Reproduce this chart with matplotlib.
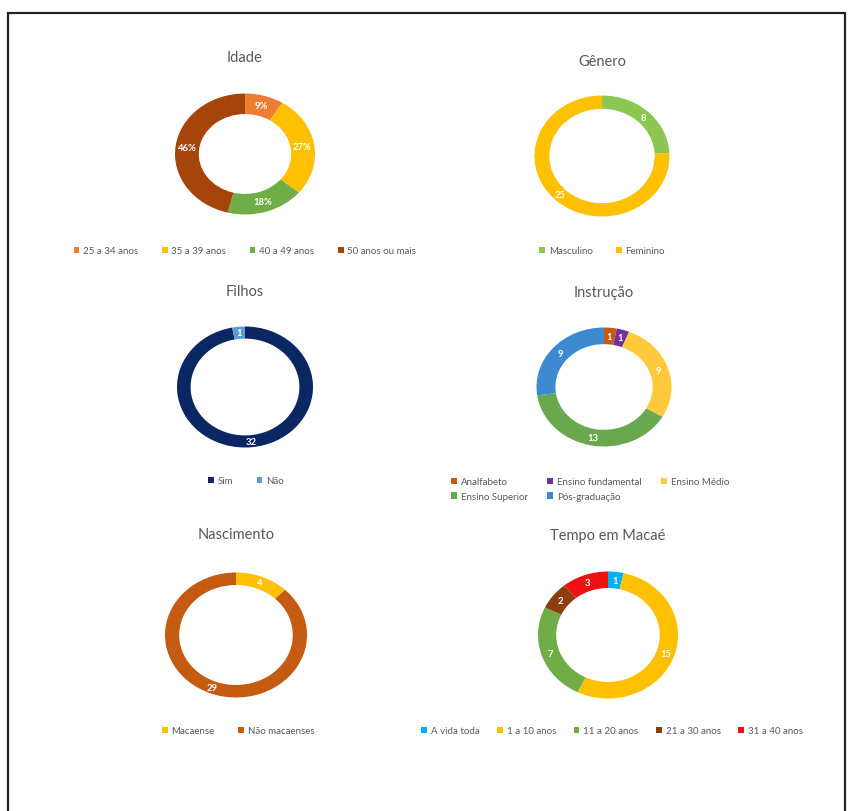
import matplotlib
matplotlib.use("Agg")
import matplotlib.pyplot as plt
from matplotlib.patches import Rectangle

plt.rcParams['font.family'] = ['Lato', 'DejaVu Sans']

W, H = 848, 812

# ---- data ----
idade_labels = ['25 a 34 anos', '35 a 39 anos', '40 a 49 anos', '50 anos ou mais']
idade_values = [9, 27, 18, 46]
idade_colors = ['#ED7D31', '#FFC000', '#70AD47', '#A5450C']

genero_labels = ['Masculino', 'Feminino']
genero_values = [8, 25]
genero_colors = ['#8CC751', '#FFC000']

filhos_labels = ['Sim', 'Não']
filhos_values = [32, 1]
filhos_colors = ['#0A2763', '#5B9BD5']

instr_labels = ['Analfabeto', 'Ensino fundamental', 'Ensino Médio', 'Ensino Superior', 'Pós-graduação']
instr_values = [1, 1, 9, 13, 9]
instr_colors = ['#C55A11', '#7030A0', '#FFCB3D', '#6AA84F', '#3E8AD0']

nasc_labels = ['Macaense', 'Não macaenses']
nasc_values = [4, 29]
nasc_colors = ['#FFC000', '#C55A11']

tempo_labels = ['A vida toda', '1 a 10 anos', '11 a 20 anos', '21 a 30 anos', '31 a 40 anos']
tempo_values = [1, 15, 7, 2, 3]
tempo_colors = ['#00B0F0', '#FFC000', '#70AD47', '#8E3E0E', '#EE1111']

fig = plt.figure(figsize=(W / 100, H / 100), dpi=100)
fig.patch.set_facecolor('white')

# frame
fig.add_artist(Rectangle((8 / W, -0.05), (845 - 8) / W, 1.05 - 14 / H,
                         transform=fig.transFigure, fill=False,
                         edgecolor='#222222', linewidth=1.6))

TEXT = '#595959'


def donut(cx, cy, w, h, values, colors, inner, labels, title, title_y,
          leg_x, leg_y, ncol, order=None, pct=False, fs=6.8, colsp=2.4):
    ax = fig.add_axes([(cx - w / 2) / W, 1 - (cy + h / 2) / H, w / W, h / H])
    total = sum(values)
    if pct:
        fmt = lambda p: f'{p:.0f}%'
    else:
        fmt = lambda p: f'{p * total / 100:.0f}'
    wedges, texts, autotexts = ax.pie(
        values, colors=colors, startangle=90, counterclock=False, radius=1,
        wedgeprops=dict(width=1 - inner, linewidth=0),
        autopct=fmt, pctdistance=(1 + inner) / 2,
        textprops=dict(color='white', fontsize=fs, fontweight='bold'))
    ax.set_aspect('auto')
    ax.set_xlim(-1, 1)
    ax.set_ylim(-1, 1)
    ax.axis('off')
    fig.text(cx / W, 1 - title_y / H, title, ha='center', va='center',
             fontsize=10.5, color=TEXT)
    hs = list(wedges)
    ls = list(labels)
    if order is not None:
        hs = [hs[i] for i in order]
        ls = [ls[i] for i in order]
    leg = fig.legend(hs, ls, loc='center', bbox_to_anchor=(leg_x / W, 1 - leg_y / H),
                     ncol=ncol, frameon=False, fontsize=7, handlelength=0.6,
                     handleheight=0.6, handletextpad=0.4, columnspacing=colsp,
                     labelspacing=0.6)
    for t in leg.get_texts():
        t.set_color(TEXT)
    return ax


donut(245, 155, 140, 121, idade_values, idade_colors, 0.66, idade_labels,
      'Idade', 58, 245, 252, 4, pct=True)
donut(602, 157, 135, 121, genero_values, genero_colors, 0.78, genero_labels,
      'Gênero', 62, 602, 252, 2)
donut(245, 388, 136, 121, filhos_values, filhos_colors, 0.80, filhos_labels,
      'Filhos', 292, 246, 482, 2)
donut(604, 388, 135, 119, instr_values, instr_colors, 0.72, instr_labels,
      'Instrução', 293, 590, 490, 3, order=[0, 3, 1, 4, 2], colsp=2.0)
donut(236, 636, 142, 125, nasc_values, nasc_colors, 0.80, nasc_labels,
      'Nascimento', 535, 238, 732, 2)
donut(608, 636, 140, 127, tempo_values, tempo_colors, 0.74, tempo_labels,
      'Tempo em Macaé', 536, 612, 732, 5, colsp=1.8)

fig.savefig('out.png', dpi=100, facecolor='white')
